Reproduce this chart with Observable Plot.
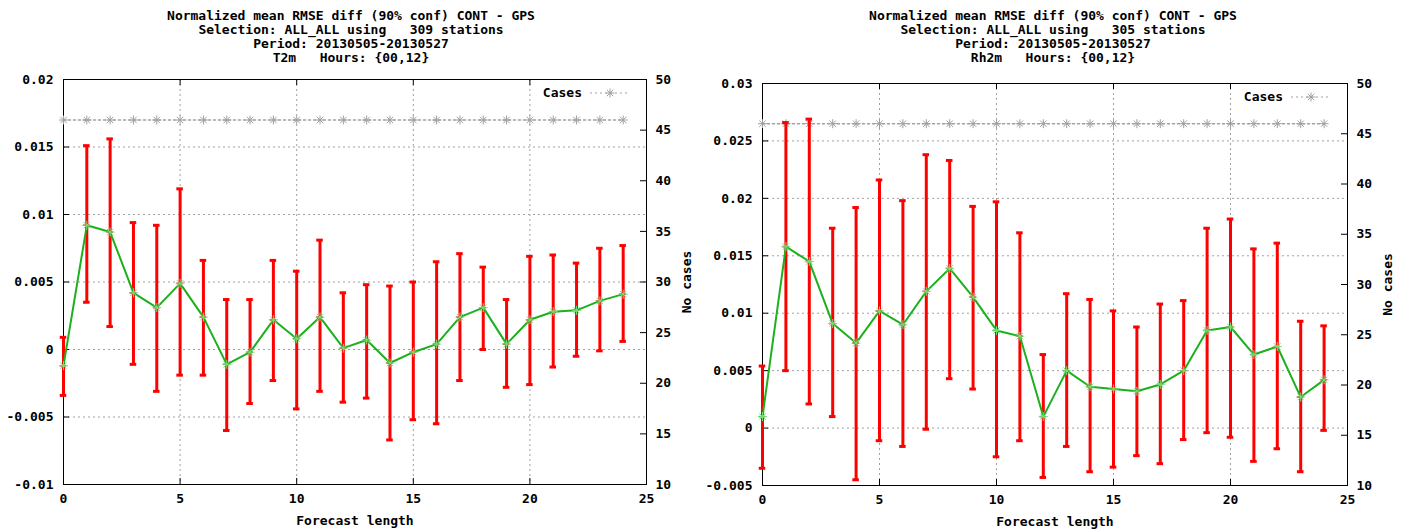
<!DOCTYPE html>
<html><head><meta charset="utf-8">
<script src="https://cdn.jsdelivr.net/npm/d3@7"></script>
<script src="https://cdn.jsdelivr.net/npm/@observablehq/plot@0.6"></script>
<style>
body{margin:0;background:#fff;font-family:"DejaVu Sans Mono",monospace;font-weight:bold;font-size:13px;color:#000;}
#wrap{display:flex;width:1404px;height:529px;}
.panel{position:relative;width:702px;height:529px;overflow:hidden;}
.title{height:66px;box-sizing:border-box;padding-top:9px;text-align:center;line-height:14px;white-space:pre;}
.legend{position:absolute;line-height:14px;height:14px;}
.legsvg{position:absolute;}
</style></head><body><div id="wrap"></div>
<script>
// ---------- data ----------
const forecastLength = [0,1,2,3,4,5,6,7,8,9,10,11,12,13,14,15,16,17,18,19,20,21,22,23,24];
const xTicks = [0,5,10,15,20,25];
const y2Ticks = [10,15,20,25,30,35,40,45,50];
const y2Domain = [10,50];

const t2mTitle = ["Normalized mean RMSE diff (90% conf) CONT - GPS","Selection: ALL_ALL using   309 stations","Period: 20130505-20130527","T2m   Hours: {00,12}"];
const t2mMean = [-0.0012,0.0092,0.0087,0.0042,0.0031,0.0049,0.0024,-0.0011,-0.0002,0.0022,0.0008,0.0024,0.0001,0.0007,-0.0010,-0.0002,0.0004,0.0024,0.0031,0.0004,0.0022,0.0028,0.0029,0.0036,0.0041];
const t2mLow  = [-0.0034,0.0035,0.0017,-0.0011,-0.0031,-0.0019,-0.0019,-0.0060,-0.0040,-0.0023,-0.0044,-0.0031,-0.0039,-0.0036,-0.0067,-0.0052,-0.0055,-0.0023,0.0000,-0.0028,-0.0026,-0.0013,-0.0005,-0.0001,0.0006];
const t2mHigh = [0.0009,0.0151,0.0156,0.0094,0.0092,0.0119,0.0066,0.0037,0.0037,0.0066,0.0058,0.0081,0.0042,0.0048,0.0047,0.0050,0.0065,0.0071,0.0061,0.0037,0.0069,0.0070,0.0064,0.0075,0.0077];
const t2mCases = [46,46,46,46,46,46,46,46,46,46,46,46,46,46,46,46,46,46,46,46,46,46,46,46,46];
const t2mYTicks = [-0.01,-0.005,0,0.005,0.01,0.015,0.02];

const rh2mTitle = ["Normalized mean RMSE diff (90% conf) CONT - GPS","Selection: ALL_ALL using   305 stations","Period: 20130505-20130527","Rh2m   Hours: {00,12}"];
const rh2mMean = [0.0010,0.0158,0.0145,0.0091,0.0074,0.0102,0.0090,0.0119,0.0139,0.0114,0.0085,0.0080,0.0010,0.0050,0.0036,0.0034,0.0032,0.0038,0.0050,0.0085,0.0088,0.0064,0.0071,0.0027,0.0042];
const rh2mLow  = [-0.0035,0.0050,0.0021,0.0010,-0.0045,-0.0011,-0.0016,-0.0001,0.0043,0.0034,-0.0025,-0.0011,-0.0043,-0.0016,-0.0038,-0.0034,-0.0024,-0.0031,-0.0010,-0.0004,-0.0008,-0.0029,-0.0018,-0.0038,-0.0002];
const rh2mHigh = [0.0054,0.0266,0.0269,0.0174,0.0192,0.0216,0.0198,0.0238,0.0233,0.0193,0.0197,0.0170,0.0064,0.0117,0.0112,0.0102,0.0088,0.0108,0.0111,0.0174,0.0182,0.0156,0.0161,0.0093,0.0089];
const rh2mCases = [46,46,46,46,46,46,46,46,46,46,46,46,46,46,46,46,46,46,46,46,46,46,46,46,46];
const rh2mYTicks = [-0.005,0,0.005,0.01,0.015,0.02,0.025,0.03];

// ---------- drawing ----------
const RED = "#ff0000", GREEN = "#1cb01c", GREENPT = "#7ada7a", GRAY = "#a0a0a0";
const TITLE_H = 66, PANEL_W = 702, PANEL_H = 529;

function panel(cfg) {
  const div = document.createElement("div");
  div.className = "panel";
  const t = document.createElement("div");
  t.className = "title";
  t.textContent = cfg.title.join("\n");
  div.appendChild(t);

  const yTicks = cfg.yTicks;
  const y0 = yTicks[0], y1 = yTicks[yTicks.length - 1];
  const toY = c => y0 + (c - y2Domain[0]) / (y2Domain[1] - y2Domain[0]) * (y1 - y0);
  const fromY = v => Math.round(y2Domain[0] + (v - y0) / (y1 - y0) * (y2Domain[1] - y2Domain[0]));
  const rows = forecastLength.map((x, i) => ({x, mean: cfg.mean[i], low: cfg.low[i], high: cfg.high[i], cases: toY(cfg.cases[i])}));

  const H = PANEL_H - TITLE_H;
  const {mt, mb, ml, mr} = cfg;
  const innerH = H - mt - mb, innerW = PANEL_W - ml - mr;
  const gridY = yTicks.slice(1, -1);
  const gridX = xTicks.slice(1, -1);
  const fmt = d => String(+(+d).toFixed(4));
  const capL = d => d.x - 0.14, capR = d => d.x + 0.14;

  const chart = Plot.plot({
    width: PANEL_W, height: H,
    marginTop: mt, marginBottom: mb, marginLeft: ml, marginRight: mr,
    x: {domain: [0, 25]},
    y: {domain: [y0, y1]},
    style: {fontFamily: "DejaVu Sans Mono", fontSize: "13px", fontWeight: "bold", background: "white", overflow: "visible"},
    marks: [
      Plot.ruleY(gridY, {stroke: GRAY, strokeDasharray: "2,3"}),
      Plot.ruleX(gridX, {stroke: GRAY, strokeDasharray: "2,3"}),
      Plot.frame({stroke: "black"}),
      Plot.ruleX(xTicks, {stroke: "black", insetTop: innerH - 6}),
      Plot.ruleX(xTicks, {stroke: "black", insetBottom: innerH - 6}),
      Plot.ruleY(yTicks, {stroke: "black", insetRight: innerW - 6}),
      Plot.ruleY(y2Ticks.map(toY), {stroke: "black", insetLeft: innerW - 6}),
      Plot.line(rows, {x: "x", y: "cases", stroke: GRAY, strokeDasharray: "2,3"}),
      Plot.dot(rows, {x: "x", y: "cases", symbol: "plus", r: 3, stroke: GRAY, strokeWidth: 1}),
      Plot.dot(rows, {x: "x", y: "cases", symbol: "times", r: 3, stroke: GRAY, strokeWidth: 1}),
      Plot.ruleX(rows, {x: "x", y1: "low", y2: "high", stroke: RED, strokeWidth: 3}),
      Plot.ruleY(rows, {y: "low", x1: capL, x2: capR, stroke: RED, strokeWidth: 3}),
      Plot.ruleY(rows, {y: "high", x1: capL, x2: capR, stroke: RED, strokeWidth: 3}),
      Plot.ruleY(rows, {y: "mean", x1: capL, x2: capR, stroke: RED, strokeWidth: 1.5}),
      Plot.line(rows, {x: "x", y: "mean", stroke: GREEN, strokeWidth: 2}),
      Plot.dot(rows, {x: "x", y: "mean", symbol: "plus", r: 3, stroke: GREENPT, strokeWidth: 1}),
      Plot.dot(rows, {x: "x", y: "mean", symbol: "times", r: 3, stroke: GREENPT, strokeWidth: 1}),
      Plot.axisX(xTicks, {tickSize: 0, tickPadding: 9, label: "Forecast length", labelAnchor: "center", labelOffset: 40, labelArrow: false}),
      Plot.axisY(yTicks, {tickSize: 0, tickPadding: 10, tickFormat: fmt, label: null}),
      Plot.axisY(y2Ticks.map(toY), {anchor: "right", tickSize: 0, tickPadding: 9, tickFormat: fromY, label: "No cases", labelAnchor: "center", labelOffset: 44, labelArrow: false})
    ]
  });
  div.appendChild(chart);

  // legend "Cases" in the top-right corner of the frame
  const frameTop = TITLE_H + mt, frameRight = PANEL_W - mr;
  const lg = document.createElement("div");
  lg.className = "legend";
  lg.textContent = "Cases";
  lg.style.top = (frameTop + 7) + "px";
  lg.style.right = (PANEL_W - (frameRight - 64)) + "px";
  div.appendChild(lg);
  const ns = "http://www.w3.org/2000/svg";
  const s = document.createElementNS(ns, "svg");
  s.setAttribute("class", "legsvg");
  s.setAttribute("width", 40); s.setAttribute("height", 14);
  s.style.left = (frameRight - 56) + "px";
  s.style.top = (frameTop + 7) + "px";
  s.innerHTML = `<line x1="0" x2="38" y1="7" y2="7" stroke="${GRAY}" stroke-dasharray="2,3"/>
    <path d="M20 2.5V11.5M15.5 7H24.5M16.8 3.8L23.2 10.2M16.8 10.2L23.2 3.8" stroke="${GRAY}" fill="none"/>`;
  div.appendChild(s);
  return div;
}

const wrap = document.getElementById("wrap");
wrap.appendChild(panel({title: t2mTitle, mean: t2mMean, low: t2mLow, high: t2mHigh, cases: t2mCases, yTicks: t2mYTicks, mt: 13, mb: 45, ml: 63, mr: 56}));
wrap.appendChild(panel({title: rh2mTitle, mean: rh2mMean, low: rh2mLow, high: rh2mHigh, cases: rh2mCases, yTicks: rh2mYTicks, mt: 17, mb: 44, ml: 60, mr: 57}));
</script>
</body></html>
